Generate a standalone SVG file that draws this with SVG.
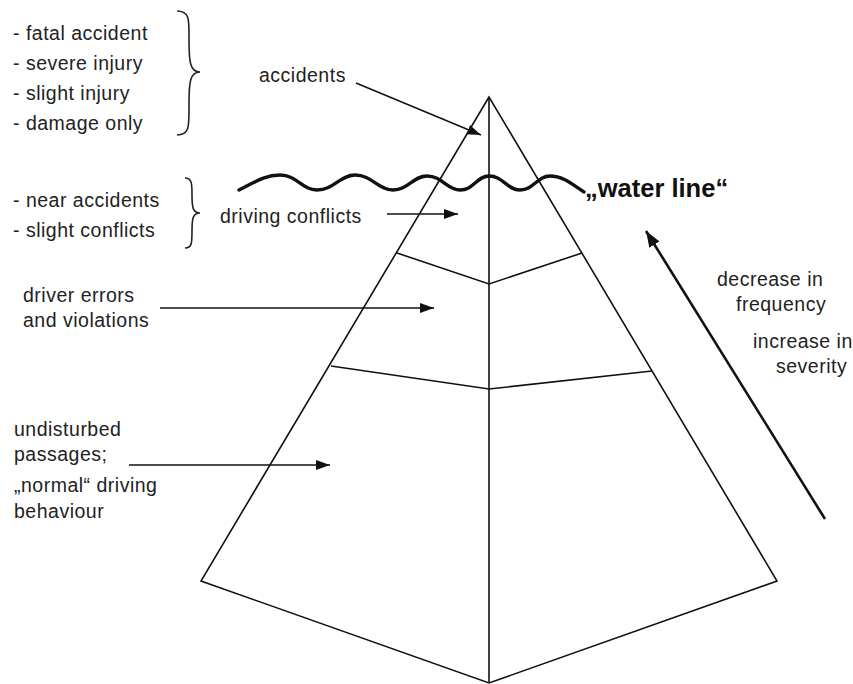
<svg xmlns="http://www.w3.org/2000/svg" width="853" height="684" viewBox="0 0 853 684">
<style>
.t{font-family:"Liberation Sans",Arial,sans-serif;font-size:19.5px;letter-spacing:0.5px;fill:#222;}
.wl{font-family:"Liberation Sans",Arial,sans-serif;font-size:25.5px;font-weight:bold;fill:#111;}
.ln{fill:none;stroke:#111;stroke-width:1.6;stroke-linejoin:miter;}
.br{fill:none;stroke:#222;stroke-width:1.6;}
.ar{fill:none;stroke:#111;stroke-width:1.5;}
</style>
<defs>
<marker id="ah" viewBox="0 0 14 10" refX="14" refY="5" markerWidth="14" markerHeight="10" markerUnits="userSpaceOnUse" orient="auto">
<path d="M0,0 L14,5 L0,10 Z" fill="#111"/>
</marker>
<marker id="ah2" viewBox="0 0 16 12" refX="16" refY="6" markerWidth="16" markerHeight="12" markerUnits="userSpaceOnUse" orient="auto">
<path d="M0,0 L16,6 L0,12 Z" fill="#111"/>
</marker>
</defs>
<rect width="853" height="684" fill="#fff"/>
<g id="pyramid">
<path class="ln" d="M489,97 L201,581 L489,683 L777,581 Z"/>
<line class="ln" x1="489" y1="97" x2="489" y2="683"/>
<polyline class="ln" points="397,253 489,284 582,253"/>
<polyline class="ln" points="331,366 489,389 652,371"/>
</g>
<g id="waterline">
<path fill="none" stroke="#111" stroke-width="3.4" stroke-linecap="round" d="M239,190 C255,182 265,175 280,175 C297,175 302,190 317,190 C334,190 340,175 355,175 C372,175 378,190 393,190 C408,190 413,176 427,176 C442,176 447,190 460,190 C474,190 477,176 489,176 C503,176 507,190 520,190 C534,190 537,176 550,176 C564,176 574,186 584,192"/>
<text class="wl" x="585" y="197">„water line“</text>
</g>
<g id="severe-list">
<text class="t" x="13" y="40">- fatal accident</text>
<text class="t" x="13" y="70">- severe injury</text>
<text class="t" x="13" y="100">- slight injury</text>
<text class="t" x="13" y="130">- damage only</text>
<path class="br" d="M177,11 C190,11 189,20 189,40 C189,62 190,72 200,72 C190,72 189,82 189,104 C189,126 190,135 177,135"/>
</g>
<g id="near-list">
<text class="t" x="13" y="207">- near accidents</text>
<text class="t" x="13" y="237">- slight conflicts</text>
<path class="br" d="M185,178 C192,178 192,184 192,195 C192,208 193,213 200,213 C193,213 192,218 192,231 C192,243 192,248 185,248"/>
</g>
<g id="accidents"><text class="t" x="259" y="82">accidents</text></g>
<g id="driving-conflicts"><text class="t" x="220" y="223">driving conflicts</text></g>
<g id="driver-errors">
<text class="t" x="23" y="302">driver errors</text>
<text class="t" x="23" y="327">and violations</text>
</g>
<g id="normal-driving">
<text class="t" x="14" y="436">undisturbed</text>
<text class="t" x="14" y="461">passages;</text>
<text class="t" x="14" y="492">„normal“ driving</text>
<text class="t" x="14" y="518">behaviour</text>
</g>
<g id="trend">
<text class="t" x="717" y="286">decrease in</text>
<text class="t" x="736" y="311">frequency</text>
<text class="t" x="753" y="348">increase in</text>
<text class="t" x="776" y="373">severity</text>
</g>
<g id="connectors">
<line class="ar" x1="356" y1="83" x2="481" y2="135" marker-end="url(#ah)"/>
<line class="ar" x1="387" y1="214" x2="458" y2="214" marker-end="url(#ah)"/>
<line class="ar" x1="160" y1="308" x2="434" y2="308" marker-end="url(#ah)"/>
<line class="ar" x1="129" y1="465" x2="330" y2="465" marker-end="url(#ah)"/>
<line fill="none" stroke="#111" stroke-width="2.6" x1="825" y1="519" x2="646" y2="231" marker-end="url(#ah2)"/>
</g>
</svg>
